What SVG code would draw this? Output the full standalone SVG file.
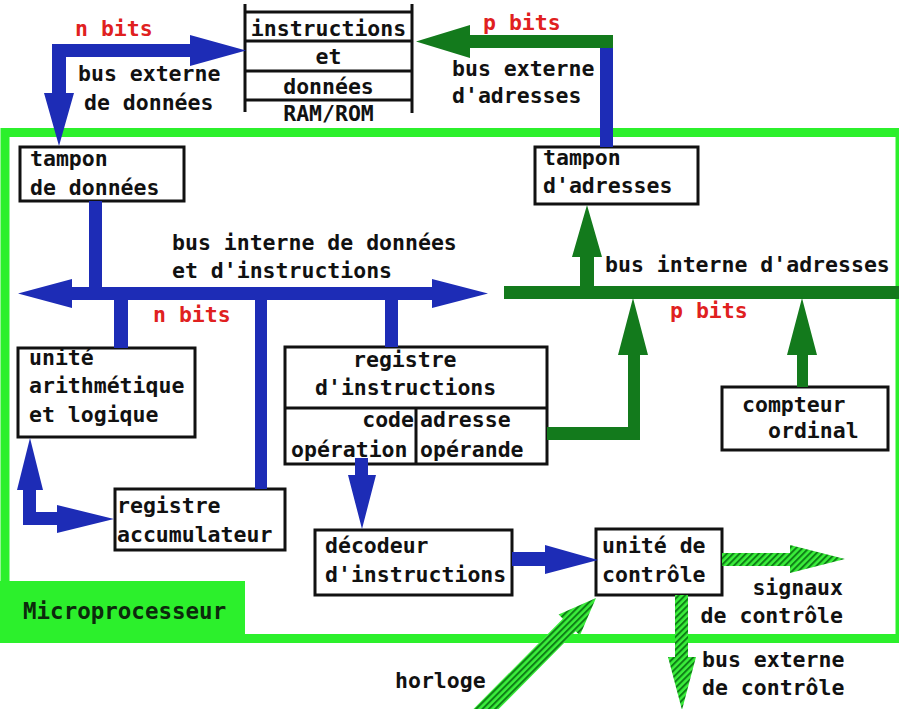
<svg xmlns="http://www.w3.org/2000/svg" width="899" height="709" viewBox="0 0 899 709">
  <defs>
    <pattern id="hatch" patternUnits="userSpaceOnUse" width="4.5" height="4.5" patternTransform="rotate(45)">
      <rect width="4.5" height="4.5" fill="#3bef3b"/>
      <rect x="0" y="0" width="2" height="4.5" fill="#0f7f17"/>
    </pattern>
    <style>
      text { font-family: "DejaVu Sans Mono", "Liberation Mono", monospace; font-weight: bold; font-size: 21.5px; fill: #111; }
      .red { fill: #e02020; }
      .end { text-anchor: end; }
      .mid { text-anchor: middle; }
      .box { fill: #fff; stroke: #111; stroke-width: 3; }
      .sep { stroke: #111; stroke-width: 3; fill: none; }
      .blue { fill: #1d2cb6; }
      .dgreen { fill: #137a1c; }
      .hatched { fill: url(#hatch); }
    </style>
  </defs>

  <rect width="899" height="709" fill="#fff"/>

  <!-- microprocessor boundary -->
  <g id="microprocesseur">
    <rect x="5" y="132.5" width="895" height="506" fill="none" stroke="#2cf02c" stroke-width="9"/>
    <rect x="0" y="581" width="245" height="62" fill="#2cf02c"/>
    <text x="23" y="619" style="fill:#0c2a0c;font-size:22.5px">Microprocesseur</text>
  </g>

  <!-- memory -->
  <g id="ram-rom">
    <path class="sep" d="M245,4 V112 M412,4 V113 M245,12 H412 M245,41 H412 M245,71 H412 M245,100 H412"/>
    <text class="mid" x="328.5" y="36">instructions</text>
    <text class="mid" x="328.5" y="64">et</text>
    <text class="mid" x="328.5" y="94">données</text>
    <text class="mid" x="328.5" y="121">RAM/ROM</text>
  </g>

  <g id="tampon-donnees">
    <rect class="box" x="20" y="147" width="164" height="54"/>
    <text x="30" y="166">tampon</text>
    <text x="30" y="195">de données</text>
  </g>

  <g id="tampon-adresses">
    <rect class="box" x="535" y="147" width="163" height="57"/>
    <text x="543" y="165">tampon</text>
    <text x="543" y="193">d'adresses</text>
  </g>

  <g id="ual">
    <rect class="box" x="18" y="348" width="177" height="89"/>
    <text x="29" y="365">unité</text>
    <text x="29" y="393">arithmétique</text>
    <text x="29" y="422">et logique</text>
  </g>

  <g id="registre-accumulateur">
    <rect class="box" x="115" y="489" width="170" height="61"/>
    <text x="117" y="513">registre</text>
    <text x="117" y="542">accumulateur</text>
  </g>

  <g id="registre-instructions">
    <rect class="box" x="285" y="347" width="262" height="117"/>
    <path class="sep" d="M285,408 H547 M416,408 V464"/>
    <text x="353" y="367">registre</text>
    <text x="315" y="395">d'instructions</text>
    <text class="end" x="414" y="427">code</text>
    <text x="291" y="457">opération</text>
    <text x="420" y="427">adresse</text>
    <text x="420" y="457">opérande</text>
  </g>

  <g id="decodeur">
    <rect class="box" x="315" y="530" width="197" height="65"/>
    <text x="325" y="553">décodeur</text>
    <text x="325" y="582">d'instructions</text>
  </g>

  <g id="unite-controle">
    <rect class="box" x="596" y="529" width="126" height="66"/>
    <text x="602" y="553">unité de</text>
    <text x="602" y="582">contrôle</text>
  </g>

  <g id="compteur-ordinal">
    <rect class="box" x="722" y="387" width="166" height="63"/>
    <text x="742" y="412">compteur</text>
    <text x="768" y="438">ordinal</text>
  </g>

  <!-- buses and signal arrows -->
  <g id="connectors">
    <!-- external data bus -->
    <path class="blue" d="M52,44 L190,44 L190,35 L246,50.5 L190,66 L190,57 L66,57 L66,93 L74,93 L59,146 L44,93 L52,93 Z"/>
    <!-- external address bus -->
    <rect class="blue" x="600" y="48" width="13" height="99"/>
    <path class="dgreen" d="M613,35 L470,35 L470,25 L416,41.5 L470,58 L470,48 L613,48 Z"/>

    <!-- internal data bus -->
    <path class="blue" d="M18,293.5 L72,279 L72,287 L432,287 L432,279 L488,293.5 L432,308 L432,300 L72,300 L72,308 Z"/>
    <rect class="blue" x="89" y="201" width="13" height="87"/>
    <rect class="blue" x="114" y="299" width="14" height="49"/>
    <rect class="blue" x="255" y="299" width="12" height="190"/>
    <rect class="blue" x="385" y="299" width="13" height="48"/>

    <!-- ALU / accumulator -->
    <path class="blue" d="M30,438 L43,490 L36,490 L36,512 L57,512 L57,505 L114,519 L57,533 L57,525 L23,525 L23,490 L17,490 Z"/>
    <!-- opcode to decoder -->
    <path class="blue" d="M355,458 L368,458 L368,475 L376,475 L362,529 L348,475 L355,475 Z"/>
    <!-- decoder to control unit -->
    <path class="blue" d="M512,552 L545,552 L545,545 L598,560 L545,574 L545,566 L512,566 Z"/>

    <!-- internal address bus -->
    <rect class="dgreen" x="504" y="286" width="395" height="13"/>
    <path class="dgreen" d="M580,287 L580,257 L572,257 L587,205 L602,257 L594,257 L594,287 Z"/>
    <path class="dgreen" d="M547,427 L628,427 L628,355 L618,355 L633,298 L648,355 L640,355 L640,440 L547,440 Z"/>
    <path class="dgreen" d="M797,387 L797,355 L787,355 L802,298 L817,355 L808,355 L808,387 Z"/>

    <!-- control signals -->
    <path class="hatched" d="M722,553 L790,553 L790,545 L845,559 L790,573 L790,566 L722,566 Z"/>
    <path class="hatched" d="M675,595 L688,595 L688,657 L696,657 L682,710 L668,657 L675,657 Z"/>
    <path class="hatched" d="M596,598 L579.9,635.6 L575.7,631.3 L482.8,725.1 L470,712.5 L562.9,618.7 L558.6,614.4 Z"/>
  </g>

  <!-- bus labels -->
  <g id="labels">
    <text class="red" x="75" y="36">n bits</text>
    <text x="78" y="81">bus externe</text>
    <text x="84" y="110">de données</text>
    <text class="red" x="483" y="30">p bits</text>
    <text x="452" y="76">bus externe</text>
    <text x="452" y="103">d'adresses</text>
    <text x="172" y="250">bus interne de données</text>
    <text x="172" y="278">et d'instructions</text>
    <text class="red" x="153" y="322">n bits</text>
    <text x="605" y="272">bus interne d'adresses</text>
    <text class="red" x="670" y="318">p bits</text>
    <text class="end" x="843" y="595">signaux</text>
    <text class="end" x="843" y="623">de contrôle</text>
    <text x="702" y="667">bus externe</text>
    <text x="702" y="695">de contrôle</text>
    <text x="395" y="688">horloge</text>
  </g>
</svg>
